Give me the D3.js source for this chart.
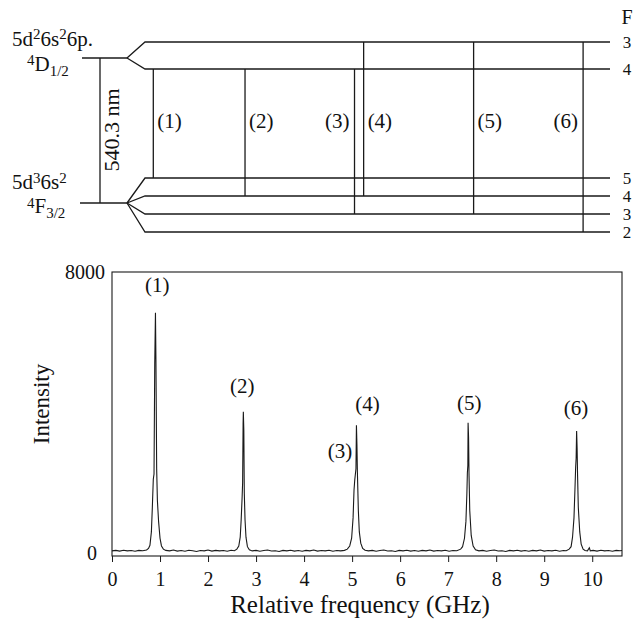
<!DOCTYPE html>
<html>
<head>
<meta charset="utf-8">
<script src="https://cdn.jsdelivr.net/npm/d3@7"></script>
<style>
body { margin: 0; background: #fff; }
text { font-family: "Liberation Serif", "Times New Roman", serif; fill: #111; }
</style>
</head>
<body>
<script>
// ---- data ----

// spectrum pieces, [GHz, counts]
var base0 = [[0,60],[0.08,75],[0.16,55],[0.24,80],[0.32,60],[0.4,70],[0.48,50],[0.56,75],[0.64,65],[0.72,85]];
var peak1 = [[0.76,130],[0.79,220],[0.82,600],[0.84,1300],[0.86,2100],[0.875,2250],[0.89,5400],[0.905,6840],[0.915,5500],[0.93,2400],[0.945,1500],[0.97,900],[1.0,420],[1.03,200],[1.07,110]];
var base1 = [[1.12,75],[1.2,60],[1.28,85],[1.36,55],[1.44,70],[1.52,50],[1.6,80],[1.68,65],[1.76,45],[1.84,70],[1.92,60],[2.0,85],[2.08,55],[2.16,75],[2.24,60],[2.32,70],[2.4,50],[2.48,80],[2.55,65]];
var peak2 = [[2.6,110],[2.64,200],[2.67,450],[2.69,950],[2.71,1600],[2.72,2000],[2.73,3670],[2.735,4020],[2.745,3500],[2.755,1700],[2.77,950],[2.79,450],[2.82,180],[2.86,90]];
var base2 = [[2.92,60],[3.0,75],[3.08,50],[3.16,70],[3.24,85],[3.32,55],[3.4,65],[3.48,45],[3.56,75],[3.64,60],[3.72,80],[3.8,55],[3.88,70],[3.96,50],[4.04,75],[4.12,60],[4.2,85],[4.28,55],[4.36,70],[4.44,60],[4.52,80],[4.6,50],[4.68,70],[4.76,60],[4.84,75]];
var peak34 = [[4.9,110],[4.95,200],[4.99,420],[5.02,1000],[5.04,1800],[5.055,2080],[5.07,2270],[5.08,2400],[5.09,3640],[5.1,3100],[5.11,2300],[5.13,1200],[5.15,600],[5.18,280],[5.22,130],[5.27,80]];
var base3 = [[5.34,60],[5.42,75],[5.5,50],[5.58,70],[5.66,85],[5.74,55],[5.82,65],[5.9,45],[5.98,75],[6.06,60],[6.14,80],[6.22,55],[6.3,70],[6.38,50],[6.46,75],[6.54,60],[6.62,85],[6.7,55],[6.78,70],[6.86,60],[6.94,80],[7.02,50],[7.1,70],[7.18,65]];
var peak5 = [[7.26,110],[7.3,180],[7.34,420],[7.37,900],[7.39,1700],[7.4,2280],[7.41,2500],[7.415,3710],[7.425,3300],[7.435,2200],[7.45,1200],[7.48,500],[7.52,200],[7.57,90]];
var base4 = [[7.64,60],[7.72,75],[7.8,50],[7.88,70],[7.96,85],[8.04,55],[8.12,65],[8.2,45],[8.28,75],[8.36,60],[8.44,80],[8.52,55],[8.6,70],[8.68,50],[8.76,75],[8.84,60],[8.92,85],[9.0,55],[9.08,70],[9.16,60],[9.24,80],[9.32,50],[9.4,70],[9.46,65]];
var peak6 = [[9.52,110],[9.56,180],[9.59,450],[9.62,1000],[9.64,1800],[9.655,2450],[9.665,2700],[9.675,3470],[9.685,3000],[9.695,2200],[9.71,1300],[9.74,600],[9.77,250],[9.81,110],[9.85,70]];
var base5 = [[9.9,60],[9.94,150],[9.96,60],[10.02,75],[10.1,55],[10.18,80],[10.26,60],[10.34,70],[10.42,50],[10.5,75],[10.58,65],[10.62,70]];

var xTicks = [0,1,2,3,4,5,6,7,8,9,10];
var yTicks = [0, 8000];

// peak labels in the spectrum: text, centre GHz, baseline counts
var peakLabels = ["(1)","(2)","(3)","(4)","(5)","(6)"];
var peakLabelGHz = [0.94, 2.71, 4.75, 5.32, 7.44, 9.66];
var peakLabelCounts = [7430, 4550, 2700, 4040, 4070, 3930];

// level scheme
var upperF = [3, 4];
var lowerF = [5, 4, 3, 2];
var transLabels = ["(1)","(2)","(3)","(4)","(5)","(6)"];
var transUpperF = [4, 4, 4, 3, 3, 3];
var transLowerF = [5, 4, 3, 4, 3, 2];
var transGHz = [0.86, 2.77, 5.05, 5.24, 7.53, 9.81];

var w = 643, h = 622;
var ink = "#1a1a1a";

var svg = d3.select("body").append("svg")
    .attr("width", w)
    .attr("height", h);

// scales - spectrum
var x = d3.scaleLinear().domain([0, 10.62]).range([112, 622]);
var y = d3.scaleLinear().domain([0, 8000]).range([553, 272]);

// ---- spectrum panel ----
svg.append("rect")
    .attr("x", x(0)).attr("y", y(8000))
    .attr("width", x(10.62) - x(0)).attr("height", 556 - y(8000))
    .attr("fill", "none").attr("stroke", ink).attr("stroke-width", 1.1);

var xAxis = svg.append("g")
    .attr("transform", "translate(0,556)")
    .call(d3.axisBottom(x).tickValues(xTicks).tickSize(6).tickSizeOuter(0).tickPadding(10));
xAxis.select(".domain").remove();
xAxis.selectAll("line").attr("stroke", ink);
xAxis.selectAll("text")
    .attr("font-family", "Liberation Serif")
    .attr("font-size", 20).attr("fill", ink);

svg.selectAll("ylab")
    .data(yTicks)
    .enter()
    .append("text")
    .text(function(d) { return d; })
    .attr("x", function(d) { return d == 0 ? 97 : 105; })
    .attr("y", function(d) { return y(d) + 7; })
    .attr("text-anchor", "end")
    .attr("font-size", 20);

var spectrum = [].concat(base0, peak1, base1, peak2, base2, peak34, base3, peak5, base4, peak6, base5);

svg.append("path")
    .datum(spectrum)
    .attr("fill", "none")
    .attr("stroke", ink)
    .attr("stroke-width", 1.1)
    .attr("d", d3.line()
        .x(function(d) { return x(d[0]); })
        .y(function(d) { return y(d[1]); }));

svg.selectAll("plab")
    .data(peakLabels)
    .enter()
    .append("text")
    .text(function(d) { return d; })
    .attr("x", function(d, i) { return x(peakLabelGHz[i]); })
    .attr("y", function(d, i) { return y(peakLabelCounts[i]); })
    .attr("text-anchor", "middle")
    .attr("font-size", 21);

svg.append("text")
    .text("Intensity")
    .attr("transform", "translate(49,404) rotate(-90)")
    .attr("text-anchor", "middle")
    .attr("font-size", 23);

svg.append("text")
    .text("Relative frequency (GHz)")
    .attr("x", 360).attr("y", 613)
    .attr("text-anchor", "middle")
    .attr("font-size", 25);

// ---- level scheme ----
var upY = d3.scalePoint().domain(upperF).range([42, 69]);
var lowY = d3.scalePoint().domain(lowerF).range([178, 232]);
var upFine = 58, lowFine = 203;
var line = d3.line();

function levelGroup(yFine, fs, ys, x0) {
    svg.append("path")
        .attr("d", line([[x0, yFine], [127, yFine]]))
        .attr("fill", "none").attr("stroke", ink).attr("stroke-width", 1.3);
    svg.selectAll("lv")
        .data(fs)
        .enter()
        .append("path")
        .attr("d", function(f) { return line([[127, yFine], [145, ys(f)], [610, ys(f)]]); })
        .attr("fill", "none").attr("stroke", ink).attr("stroke-width", 1.3);
    svg.selectAll("lvlab")
        .data(fs)
        .enter()
        .append("text")
        .text(function(f) { return f; })
        .attr("x", 627)
        .attr("y", function(f) { return ys(f) + 6; })
        .attr("text-anchor", "middle")
        .attr("font-size", 17);
}
levelGroup(upFine, upperF, upY, 82);
levelGroup(lowFine, lowerF, lowY, 80);

svg.append("text").text("F")
    .attr("x", 627).attr("y", 24)
    .attr("text-anchor", "middle")
    .attr("font-size", 20);

// transitions
svg.selectAll("tr")
    .data(transLabels)
    .enter()
    .append("line")
    .attr("x1", function(d, i) { return x(transGHz[i]); })
    .attr("x2", function(d, i) { return x(transGHz[i]); })
    .attr("y1", function(d, i) { return upY(transUpperF[i]); })
    .attr("y2", function(d, i) { return lowY(transLowerF[i]); })
    .attr("stroke", ink).attr("stroke-width", 1.3);

svg.selectAll("trlab")
    .data(transLabels)
    .enter()
    .append("text")
    .text(function(d) { return d; })
    .attr("x", function(d, i) {
        // (3) and (6) sit to the left of their line
        return (i == 2 || i == 5) ? x(transGHz[i]) - 5 : x(transGHz[i]) + 4;
    })
    .attr("y", 128)
    .attr("text-anchor", function(d, i) { return (i == 2 || i == 5) ? "end" : "start"; })
    .attr("font-size", 21);

// 540.3 nm bar between the fine-structure levels
svg.append("line")
    .attr("x1", 100).attr("x2", 100)
    .attr("y1", upFine).attr("y2", lowFine)
    .attr("stroke", ink).attr("stroke-width", 1.3);
svg.append("text").text("540.3 nm")
    .attr("transform", "translate(119,130) rotate(-90)")
    .attr("text-anchor", "middle")
    .attr("font-size", 22);

// configuration labels with super/subscripts
function rich(xp, yp, parts) {
    var t = svg.append("text").attr("x", xp).attr("y", yp).attr("font-size", 21);
    var shift = 0;
    parts.forEach(function(p) {
        var s = p[1];
        t.append("tspan")
            .text(p[0])
            .attr("dy", s - shift)
            .attr("font-size", s == 0 ? 21 : 15);
        shift = s;
    });
}
rich(12, 46, [["5d",0],["2",-7],["6s",0],["2",-7],["6p.",0]]);
rich(27, 71, [["4",-6],["D",0],["1/2",5]]);
rich(12, 189, [["5d",0],["3",-6],["6s",0],["2",-6]]);
rich(27, 213, [["4",-5],["F",0],["3/2",5]]);
</script>
</body>
</html>
